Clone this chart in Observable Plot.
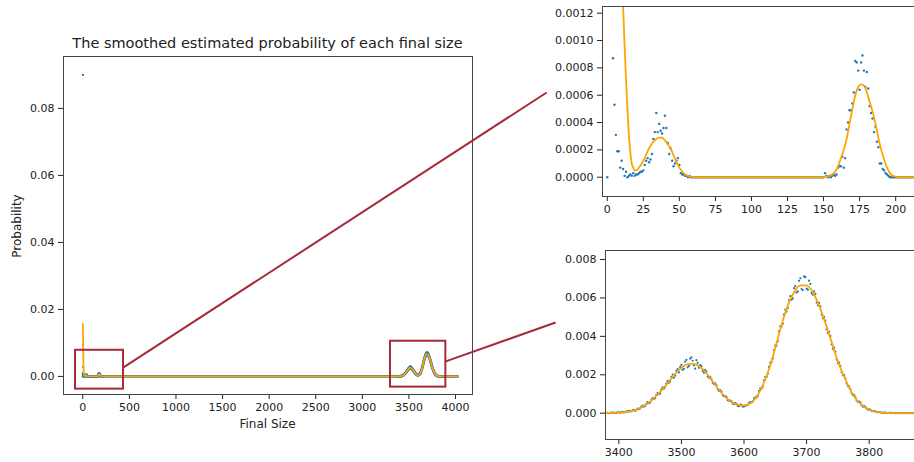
<!DOCTYPE html>
<html><head><meta charset="utf-8">
<script src="https://cdn.jsdelivr.net/npm/d3@7"></script>
<script src="https://cdn.jsdelivr.net/npm/@observablehq/plot@0.6"></script>
<style>
body{margin:0;background:#fff;}
#fig{position:relative;width:914px;height:462px;overflow:hidden;background:#fff;font-family:"DejaVu Sans",sans-serif;color:#222}
.abs{position:absolute}
#fig svg{position:absolute}
</style></head><body>
<div id="fig">
<div class="abs" style="left:63px;width:409px;top:34px;text-align:center;font-size:14.5px;line-height:18px;white-space:nowrap">The smoothed estimated probability of each final size</div>
<div class="abs" style="left:63px;width:409px;top:417px;text-align:center;font-size:12px;line-height:14px">Final Size</div>
<div class="abs" style="left:-33px;width:100px;top:219px;text-align:center;font-size:12px;line-height:14px;transform:rotate(-90deg)">Probability</div>
</div>
<script>
// ---- data ----
// blue dots: estimated probability for final sizes 0..213 (index = size)
const smallProb = [
0,0.09,0.0095,0.0028,0.00087,0.00053,0.00031,0.00019,0.00019,0.00007,
0.00012,0.00006,0.00001,0.00004,0,0.00001,0.00002,0.00001,0.00003,0.00001,
0.00002,0.00002,0.00003,0.00004,0.00004,0.00005,0.00009,0.00012,0.00014,0.00011,
0.00013,0.00017,0.00028,0.00033,0.00047,0.00033,0.00039,0.00034,0.00032,0.00036,
0.00045,0.00036,0.00025,0.00017,0.00021,0.00012,0.00008,0.0001,0.00012,0.00014,
0.00009,0.00003,0.00002,0.00002,0.00001,0.00001,0,0.00001,0,0,
0,0,0,0,0,0,0,0,0,0,
0,0,0,0,0,0,0,0,0,0,
0,0,0,0,0,0,0,0,0,0,
0,0,0,0,0,0,0,0,0,0,
0,0,0,0,0,0,0,0,0,0,
0,0,0,0,0,0,0,0,0,0,
0,0,0,0,0,0,0,0,0,0,
0,0,0,0,0,0,0,0,0,0,
0,0,0,0,0,0,0,0,0,0,
0,0.00003,0.00001,0,0.00001,0,0.00001,0.00002,0.00001,0.00002,
0.00007,0.00008,0.00008,0.00015,0.00007,0.00014,0.00035,0.0004,0.00049,0.00049,
0.00054,0.00062,0.00085,0.00084,0.00078,0.00064,0.00084,0.00089,0.00078,0.00066,
0.00077,0.00065,0.00052,0.00047,0.00043,0.00033,0.00037,0.00026,0.00022,0.0001,
0.0001,0.00006,0.00005,0.00003,0.00002,0.00001,0,0,0,0,
0,0,0,0,0,0,0,0,0,0,
0,0,0,0
];
// blue dots: estimated probability for final sizes 3378, 3382, ... 3878 (step 4)
const largeStartA = 3378, largeStep = 4;
const largeProbA = [
0,0.00002,0.00001,0.00003,0.00002,0.00004,0.00003,0.00007,0.00005,0.0001,
0.00009,0.00015,0.00013,0.00024,0.00025,0.00039,0.00038,0.00058,0.00055,0.00079,
0.00078,0.00105,0.00102,0.00134,0.00136,0.00168,0.00166,0.00201,0.00196,0.0023,
0.00241,0.00226,0.00268,0.00239,0.00284,0.00273,0.00232,0.00262,0.00251,0.00219,
0.00226,0.00191,0.00189,0.00158,0.00155,0.00124,0.00119,0.00094,0.00089,0.00068,
0.00065,0.00051,0.00052,0.00038,0.00045,0.00034,0.00039,0.00043,0.00058,0.00061,
0.00082,0.0009,0.00129,0.00138,0.00188,0.00205,0.00263,0.00285,0.00352,0.00375,
0.00452,0.00466,0.00538,0.00547,0.00609,0.00598,0.00662,0.00634,0.00702,0.00641,
0.00708,0.00643,0.00673,0.00617,0.00621,0.00562,0.00556,0.00494,0.00482,0.00418,
0.00402,0.00336,0.0032,0.00261,0.00246,0.00198,0.00182,0.00141,0.00126,0.00094,
0.00084,0.00059,0.00055,0.00034,0.00032,0.00019,0.00018,0.0001,0.00009,0.00005,
0.00005,0.00002,0.00003,0.00001,0.00002,0.00001,0,0.00001,0,0,
0.00001,0,0,0,0.00001,0
];
// blue dots: estimated probability for final sizes 3380, 3384, ... 3876 (step 4)
const largeStartB = 3380;
const largeProbB = [
0.00001,0,0.00003,0.00002,0.00001,0.00005,0.00004,0.00004,0.00008,0.00012,
0.0001,0.00017,0.00016,0.00021,0.00033,0.00034,0.00049,0.00052,0.00069,0.00074,
0.00095,0.00099,0.00124,0.00127,0.00155,0.00158,0.00189,0.00185,0.00222,0.00212,
0.00252,0.00231,0.00278,0.00246,0.00291,0.00249,0.00276,0.00236,0.00245,0.0021,
0.00217,0.00184,0.00178,0.00151,0.00145,0.00116,0.00112,0.00088,0.00084,0.00065,
0.00061,0.00047,0.00049,0.00036,0.00044,0.00035,0.00041,0.00054,0.00056,0.00077,
0.00081,0.00116,0.00127,0.00171,0.00189,0.00241,0.00266,0.00329,0.00352,0.00426,
0.00451,0.00514,0.00529,0.00589,0.00591,0.00651,0.00628,0.00689,0.00646,0.00712,
0.00648,0.0069,0.00626,0.00634,0.00576,0.00574,0.00513,0.00501,0.00437,0.00424,
0.00358,0.00341,0.00279,0.00263,0.00213,0.00198,0.00155,0.0014,0.00104,0.00095,
0.00066,0.0006,0.00041,0.00037,0.00024,0.0002,0.00012,0.00011,0.00006,0.00006,
0.00002,0.00003,0.00001,0.00002,0,0.00001,0,0,0.00001,0,
0,0.00001,0,0,0
];
// zero-probability tail up to the largest final size
const tailSizes = [3900, 3950, 4000, 4020];
const tailProb = [0, 0, 0, 0];
// orange smoothed curve, small sizes
const smoothSmallSizes = [0,1,2,3,4,5,6,7,8,9,10,11,12,13,14,15,16,17,18,19,20,
22,24,26,28,30,32,34,36,38,40,42,44,46,48,50,52,54,56,58,60,
150,152,154,156,158,160,162,164,166,168,170,172,174,176,178,180,182,184,186,188,190,192,194,196,198,200,202,213];
const smoothSmallProb = [0.0157,0.0150,0.0137,0.0118,0.0097,0.0076,0.0057,0.0041,0.0029,0.0021,0.0016,0.00125,0.00097,0.00072,0.0005,0.00031,0.00018,0.0001,0.00007,0.00005,0.00005,
0.00007,0.0001,0.00014,0.00019,0.00023,0.00026,0.00028,0.00029,0.00029,0.00027,0.00024,0.00021,0.00016,0.00011,0.00007,0.00004,0.00002,0.00001,0.000005,0,
0,0.000005,0.00001,0.00002,0.00004,0.00008,0.00014,0.0002,0.00028,0.00039,0.0005,0.0006,0.00066,0.00068,0.00067,0.00062,0.00055,0.00048,0.00039,0.00029,0.0002,0.00013,0.00007,0.00003,0.00001,0.000005,0,0];
// orange smoothed curve, large sizes
const smoothLargeSizes = [3370,3380,3390,3400,3410,3420,3430,3440,3450,3460,3470,3480,3490,3500,3510,3520,3530,3540,3550,3560,3570,3580,3590,3600,
3610,3620,3630,3640,3650,3660,3670,3680,3690,3700,3710,3720,3730,3740,3750,3760,3770,3780,3790,3800,3810,3820,3830,3840,3890];
const smoothLargeProb = [0,0.00001,0.00002,0.00003,0.00006,0.00011,0.0002,0.00037,0.0006,0.0009,0.00125,0.00165,0.00205,0.00236,0.00255,0.00257,0.0024,0.00208,0.00165,0.00122,0.00085,0.00058,0.00043,0.0004,
0.00052,0.00085,0.00145,0.0023,0.0034,0.0046,0.0056,0.0063,0.00665,0.00665,0.0063,0.0056,0.0047,0.0037,0.0027,0.0019,0.0012,0.0007,0.00038,0.00018,0.00008,0.00003,0.00001,0,0];

// zoom regions marked on the overview, and connector anchors
const boxNames = ["small", "large"];
const boxX1 = [-78, 3302], boxX2 = [437, 3896];
const boxY1 = [-0.0038, -0.0032], boxY2 = [0.0078, 0.0105];
const connFromX = [437, 3896], connFromY = [0.0027, 0.0045];   // overview data coords
const connToX = [-42, 3299], connToY = [0.00062, 0.00472];      // inset data coords

// tick labels
const mainTicksX = [0,500,1000,1500,2000,2500,3000,3500,4000];
const mainTicksY = [0,0.02,0.04,0.06,0.08];
const topTicksX = [0,25,50,75,100,125,150,175,200];
const topTicksY = [0,0.0002,0.0004,0.0006,0.0008,0.0010,0.0012];
const botTicksX = [3400,3500,3600,3700,3800];
const botTicksY = [0,0.002,0.004,0.006,0.008];

// ---- build tables ----
const smallDots = smallProb.map((p, i) => ({size: i, p}));
const largeDots = largeProbA.map((p, i) => ({size: largeStartA + i * largeStep, p}))
  .concat(largeProbB.map((p, i) => ({size: largeStartB + i * largeStep, p})))
  .sort((a, b) => a.size - b.size);
const tailDots = tailSizes.map((s, i) => ({size: s, p: tailProb[i]}));
const smoothSmall = smoothSmallSizes.map((s, i) => ({size: s, p: smoothSmallProb[i]}));
const smoothLarge = smoothLargeSizes.map((s, i) => ({size: s, p: smoothLargeProb[i]}));
const boxes = boxNames.map((n, i) => ({n, x1: boxX1[i], x2: boxX2[i], y1: boxY1[i], y2: boxY2[i]}));

const BLUE = "#1f77b4", ORANGE = "#ffa500", RED = "#a52a3a";
const baseStyle = {fontFamily: "DejaVu Sans, sans-serif", fontSize: "11px", color: "#222", background: "transparent"};
const fig = document.getElementById("fig");

// ---- overview ----
const allDots = smallDots.concat(largeDots, tailDots);
const main = Plot.plot({
  width: 480, height: 440,
  marginLeft: 63, marginRight: 8, marginTop: 56, marginBottom: 46,
  style: baseStyle,
  x: {domain: [-207, 4182], ticks: mainTicksX, tickFormat: d3.format("d"), tickSize: 5, tickPadding: 4, label: null},
  y: {domain: [-0.0054, 0.0955], ticks: mainTicksY, tickFormat: d3.format(".2f"), tickSize: 5, tickPadding: 4, label: null},
  marks: [
    Plot.line(allDots.filter(d => d.size >= 4), {x: "size", y: "p", stroke: BLUE, strokeWidth: 2.8}),
    Plot.dot(allDots, {x: "size", y: "p", r: 1.1, fill: BLUE, stroke: "none"}),
    Plot.line(smoothSmall.concat(smoothLarge, tailDots), {x: "size", y: "p", stroke: ORANGE, strokeWidth: 1.8, curve: "monotone-x"}),
    Plot.rect(boxes, {x1: "x1", x2: "x2", y1: "y1", y2: "y2", fill: "none", stroke: RED, strokeWidth: 2}),
    Plot.frame({stroke: "#444"})
  ]
});
main.style.left = "0px"; main.style.top = "0px";
fig.appendChild(main);

// ---- inset: small sizes ----
const topInset = Plot.plot({
  width: 380, height: 226,
  marginLeft: 52, marginRight: 6, marginTop: 6, marginBottom: 30,
  style: baseStyle,
  x: {domain: [-3.3, 220], ticks: topTicksX, tickFormat: d3.format("d"), tickSize: 5, tickPadding: 4, label: null},
  y: {domain: [-0.000141, 0.001249], ticks: topTicksY, tickFormat: d3.format(".4f"), tickSize: 5, tickPadding: 4, label: null},
  marks: [
    Plot.dot(smallDots, {x: "size", y: "p", r: 1.2, fill: BLUE, stroke: "none", clip: true}),
    Plot.line(smoothSmall, {x: "size", y: "p", stroke: ORANGE, strokeWidth: 1.8, curve: "monotone-x", clip: true}),
    Plot.frame({stroke: "#444"})
  ]
});
topInset.style.left = "550px"; topInset.style.top = "0px";
fig.appendChild(topInset);

// ---- inset: large sizes ----
const botInset = Plot.plot({
  width: 381, height: 222,
  marginLeft: 55, marginRight: 6, marginTop: 10, marginBottom: 23,
  style: baseStyle,
  x: {domain: [3378.7, 3890], ticks: botTicksX, tickFormat: d3.format("d"), tickSize: 5, tickPadding: 4, label: null},
  y: {domain: [-0.00137, 0.00847], ticks: botTicksY, tickFormat: d3.format(".3f"), tickSize: 5, tickPadding: 4, label: null},
  marks: [
    Plot.dot(largeDots, {x: "size", y: "p", r: 1.1, fill: BLUE, stroke: "none", clip: true}),
    Plot.line(smoothLarge, {x: "size", y: "p", stroke: ORANGE, strokeWidth: 1.8, curve: "monotone-x", clip: true}),
    Plot.frame({stroke: "#444"})
  ]
});
botInset.style.left = "550px"; botInset.style.top = "240px";
fig.appendChild(botInset);

// ---- connectors (overview box -> inset), positioned through each plot's scales ----
const insets = [{p: topInset, dx: 550, dy: 0}, {p: botInset, dx: 550, dy: 240}];
const links = connFromX.map((fx, i) => ({
  x1: main.scale("x").apply(fx),
  y1: main.scale("y").apply(connFromY[i]),
  x2: insets[i].dx + insets[i].p.scale("x").apply(connToX[i]),
  y2: insets[i].dy + insets[i].p.scale("y").apply(connToY[i])
}));
const overlay = Plot.plot({
  width: 914, height: 462, margin: 0,
  style: {background: "transparent"},
  x: {type: "identity", axis: null}, y: {type: "identity", axis: null},
  marks: [Plot.link(links, {x1: "x1", y1: "y1", x2: "x2", y2: "y2", stroke: RED, strokeWidth: 2})]
});
overlay.style.left = "0px"; overlay.style.top = "0px"; overlay.style.pointerEvents = "none";
fig.appendChild(overlay);
</script>
</body></html>
